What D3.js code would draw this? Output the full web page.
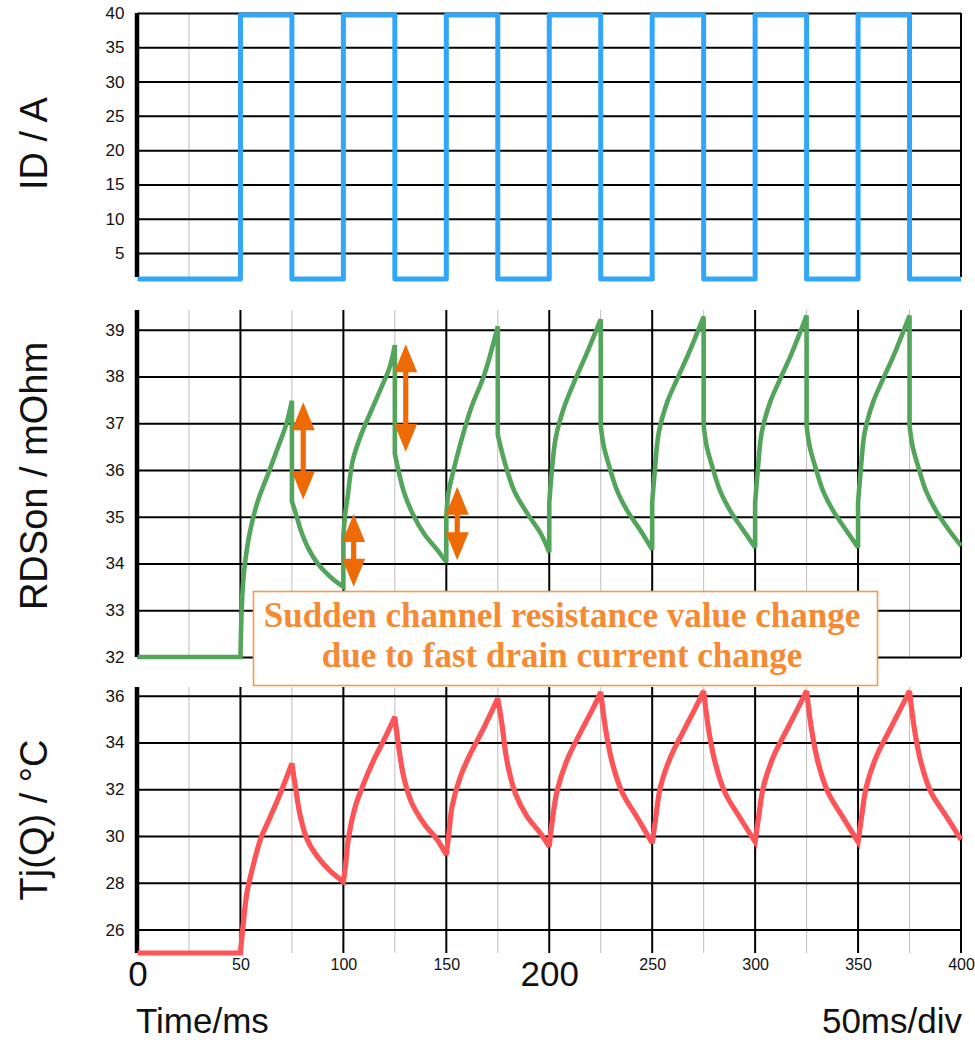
<!DOCTYPE html>
<html>
<head>
<meta charset="utf-8">
<script src="https://cdn.jsdelivr.net/npm/d3@7"></script>
<style>
  html, body { margin: 0; background: #fff; }
  svg { display: block; }
  text { font-family: "Liberation Sans", Arial, Helvetica, sans-serif; fill: #111; }
</style>
</head>
<body>
<svg id="chart" width="975" height="1040"></svg>
<script>
// ---- time axis ----
const timeMajor = [0, 50, 100, 150, 200, 250, 300, 350, 400];
const timeMinor = [25, 75, 125, 175, 225, 275, 325, 375];
const timeLabelsBig = [0, 200];

// ---- value ticks per panel ----
const idTicks = [5, 10, 15, 20, 25, 30, 35, 40];
const rdsTicks = [32, 33, 34, 35, 36, 37, 38, 39];
const tjTicks = [26, 28, 30, 32, 34, 36];

// ---- drain current: square wave, 50 ms period ----
const idTimes  = [0, 50, 75, 100, 125, 150, 175, 200, 225, 250, 275, 300, 325, 350, 375, 400];
const idValues = [1.2, 39.7, 1.2, 39.7, 1.2, 39.7, 1.2, 39.7, 1.2, 39.7, 1.2, 39.7, 1.2, 39.7, 1.2, 1.2];

// ---- channel resistance [ms, mOhm] ----
const rdsSamples = [
  [0, 32], [50, 32],
  [50.6, 33.0], [51.3, 33.6], [52.2, 34.0], [54.4, 34.63], [58.4, 35.33], [63.3, 35.9], [68.1, 36.47], [72.2, 36.97], [75, 37.48],
  [75, 35.33], [77, 35.05], [79.4, 34.7], [82.7, 34.35], [87.5, 34.0], [94, 33.7], [100, 33.5],
  [100, 34.6], [101, 35.1], [102, 35.4], [104.5, 36.19], [108.6, 36.75], [113.4, 37.25], [118.3, 37.75], [122.3, 38.17], [125, 38.67],
  [125, 36.35], [127.2, 35.9], [129.6, 35.5], [133.7, 35.06], [139.3, 34.63], [145.8, 34.28], [150, 34.03],
  [150, 35.0], [151, 35.5], [153, 35.9], [157.1, 36.6], [162, 37.32], [168.4, 38.03], [175, 39.07],
  [175, 36.75], [178.2, 36.19], [183, 35.55], [189.5, 35.06], [196, 34.63], [200, 34.24],
  [200, 35.3], [201.3, 36.0], [203.2, 36.7], [207.3, 37.35], [212.1, 37.88], [217.8, 38.45], [225, 39.22],
  [225, 36.95], [226.5, 36.5], [229, 36.1], [233.1, 35.54], [238, 35.12], [244.4, 34.7], [250, 34.3],
  [250, 35.3], [251.3, 36.0], [253.2, 36.8], [257.3, 37.45], [262.1, 37.94], [267.8, 38.5], [275, 39.28],
  [275, 36.95], [276.5, 36.5], [279, 36.1], [283.1, 35.54], [288, 35.12], [294.4, 34.7], [300, 34.34],
  [300, 35.3], [301.3, 36.0], [303.2, 36.8], [307.3, 37.45], [312.1, 37.94], [317.8, 38.5], [325, 39.3],
  [325, 36.95], [326.5, 36.5], [329, 36.1], [333.1, 35.54], [338, 35.12], [344.4, 34.7], [350, 34.34],
  [350, 35.3], [351.3, 36.0], [353.2, 36.8], [357.3, 37.45], [362.1, 37.94], [367.8, 38.5], [375, 39.3],
  [375, 36.95], [376.5, 36.5], [379, 36.1], [383.1, 35.54], [388, 35.12], [394.4, 34.7], [400, 34.38]
];

// ---- junction temperature [ms, degC] ----
const tjSamples = [
  [0, 25], [50, 25],
  [51.6, 26.45], [53.2, 27.6], [55.7, 28.57], [59.7, 29.85], [64.6, 30.84], [69.4, 31.83], [75, 33.1],
  [76.7, 32.1], [79.1, 30.84], [82.4, 29.85], [87.2, 29.14], [93.7, 28.5], [100, 28.05],
  [101, 28.7], [102.6, 29.99], [105.8, 31.26], [109.9, 32.25], [114.7, 33.24], [120.4, 34.23], [125, 35.1],
  [126.9, 33.8], [129.3, 32.53], [133.3, 31.4], [139, 30.55], [145.5, 29.85], [150, 29.2],
  [151.1, 29.99], [152.8, 31.26], [156.8, 32.53], [161.7, 33.52], [168.1, 34.6], [175, 35.88],
  [177, 34.8], [179.4, 33.24], [183.5, 31.83], [189.2, 30.84], [195.6, 30.13], [200, 29.55],
  [201.4, 30.6], [204, 32.0], [208.9, 33.3], [215.3, 34.45], [221.8, 35.55], [225, 36.15],
  [227.5, 34.5], [230.7, 33.1], [235.5, 31.85], [242.8, 30.78], [250, 29.7],
  [251.6, 30.7], [254, 32.1], [258.9, 33.37], [265.3, 34.5], [271.8, 35.62], [275, 36.2],
  [277.5, 34.5], [280.7, 33.1], [285.5, 31.83], [292.8, 30.76], [300, 29.75],
  [301.6, 30.75], [304, 32.1], [308.9, 33.4], [315.3, 34.52], [321.8, 35.64], [325, 36.2],
  [327.5, 34.5], [330.7, 33.1], [335.5, 31.85], [342.8, 30.78], [350, 29.75],
  [351.6, 30.75], [354, 32.1], [358.9, 33.4], [365.3, 34.52], [371.8, 35.64], [375, 36.2],
  [377.5, 34.5], [380.7, 33.1], [385.5, 31.85], [392.8, 30.85], [400, 29.85]
];

// ---- double arrows marking the resistance steps [ms, from, to] ----
const stepArrows = [
  [80.5, 37.45, 35.37],
  [105, 35.06, 33.5],
  [130.3, 38.69, 36.39],
  [155.3, 35.64, 34.07]
];

const noteLines = ["Sudden channel resistance value change", "due to fast drain current change"];

// ---------------------------------------------------------------
const svg = d3.select("#chart");
const x = d3.scaleLinear().domain([0, 400]).range([137.5, 961]);
const plotW = x(400) - x(0);

const panels = [
  { key: "id",  label: "ID / A",        domain: [1.5, 40],    range: [277, 13],  ticks: idTicks,  labelY: 143.5 },
  { key: "rds", label: "RDSon / mOhm",  domain: [32, 39.42],  range: [657, 310], ticks: rdsTicks, labelY: 476 },
  { key: "tj",  label: "Tj(Q) / °C",    domain: [25, 36.37],  range: [953, 687], ticks: tjTicks,  labelY: 820 }
];
panels.forEach(p => { p.y = d3.scaleLinear().domain(p.domain).range(p.range); });

panels.forEach(p => {
  const g = svg.append("g").attr("class", "panel-" + p.key);
  const [yb, yt] = p.range;

  // minor time grid (grey)
  g.append("g").selectAll("line").data(timeMinor).join("line")
    .attr("x1", d => x(d)).attr("x2", d => x(d))
    .attr("y1", yt).attr("y2", yb)
    .attr("stroke", "#bdbdbd").attr("stroke-width", 1);

  // horizontal grid + value labels
  const ax = g.append("g")
    .attr("transform", `translate(${x(0)},0)`)
    .call(d3.axisLeft(p.y).tickValues(p.ticks).tickSizeInner(-plotW).tickSizeOuter(0).tickPadding(13));
  ax.select(".domain").remove();
  ax.selectAll(".tick line").attr("stroke", "#000").attr("stroke-width", 2);
  ax.selectAll(".tick text")
    .style("font-family", "'Liberation Sans', Arial, sans-serif")
    .style("font-size", "17px").attr("fill", "#111");

  // major time grid (black)
  g.append("g").selectAll("line").data(timeMajor.filter(d => d > 0)).join("line")
    .attr("x1", d => x(d)).attr("x2", d => x(d))
    .attr("y1", yt).attr("y2", yb)
    .attr("stroke", "#000").attr("stroke-width", 2);

  // heavy left axis
  g.append("line")
    .attr("x1", x(0) - 0.5).attr("x2", x(0) - 0.5)
    .attr("y1", yt).attr("y2", yb)
    .attr("stroke", "#000").attr("stroke-width", 4.5);

  // vertical panel title
  g.append("text")
    .attr("transform", `translate(47,${p.labelY}) rotate(-90)`)
    .attr("text-anchor", "middle")
    .style("font-size", "38px")
    .text(p.label);
});

const byKey = Object.fromEntries(panels.map(p => [p.key, p]));

// ---- drain current trace ----
const idLine = d3.line()
  .x(d => x(d[0])).y(d => byKey.id.y(d[1]))
  .curve(d3.curveStepAfter);
svg.append("path")
  .datum(d3.zip(idTimes, idValues))
  .attr("d", idLine)
  .attr("fill", "none").attr("stroke", "#32a7f8")
  .attr("stroke-width", 5).attr("stroke-linejoin", "round");

// Smooth each rise / fall separately so the switching cusps stay sharp.
function splitAtEdges(samples) {
  const segs = [];
  let cur = [];
  samples.forEach(pt => {
    cur.push(pt);
    if (pt[0] % 25 === 0 && cur.length > 1) {
      segs.push(cur);
      cur = [pt];
    }
  });
  if (cur.length > 1) segs.push(cur);
  return segs;
}
function tracePath(samples, yScale) {
  const line = d3.line().x(d => x(d[0])).y(d => yScale(d[1])).curve(d3.curveCatmullRom.alpha(0.5));
  return splitAtEdges(samples)
    .map((s, i) => { const d = line(s); return i ? d.replace(/^M/, "L") : d; })
    .join("");
}

svg.append("path")
  .attr("d", tracePath(rdsSamples, byKey.rds.y))
  .attr("fill", "none").attr("stroke", "#52a55a")
  .attr("stroke-width", 4.6).attr("stroke-linejoin", "miter").attr("stroke-miterlimit", 3);

svg.append("path")
  .attr("d", tracePath(tjSamples, byKey.tj.y))
  .attr("fill", "none").attr("stroke", "#fd5457")
  .attr("stroke-width", 5.2).attr("stroke-linejoin", "miter").attr("stroke-miterlimit", 3);

// ---- step arrows ----
function doubleArrow(xc, y1, y2) {
  const hl = 28, hw = 11.5, sw = 2.6;
  return `M${xc},${y1} L${xc + hw},${y1 + hl} L${xc + sw},${y1 + hl} L${xc + sw},${y2 - hl} L${xc + hw},${y2 - hl}` +
         ` L${xc},${y2} L${xc - hw},${y2 - hl} L${xc - sw},${y2 - hl} L${xc - sw},${y1 + hl} L${xc - hw},${y1 + hl} Z`;
}
svg.append("g").selectAll("path").data(stepArrows).join("path")
  .attr("d", d => doubleArrow(x(d[0]), byKey.rds.y(d[1]), byKey.rds.y(d[2])))
  .attr("fill", "#ee6a05");

// ---- annotation box ----
const note = svg.append("g");
note.append("rect")
  .attr("x", 253.5).attr("y", 591.5).attr("width", 624).attr("height", 94)
  .attr("fill", "#fff").attr("stroke", "#f7994f").attr("stroke-width", 1.6);
note.selectAll("text").data(noteLines).join("text")
  .attr("x", 562).attr("y", (d, i) => 627 + i * 40)
  .attr("text-anchor", "middle")
  .style("font-family", "'Liberation Serif', 'Times New Roman', serif")
  .style("font-weight", "bold").style("font-size", "35px")
  .style("fill", "#f68a32")
  .text(d => d);

// ---- time axis labels ----
const xa = svg.append("g")
  .attr("transform", `translate(0,${byKey.tj.range[0]})`)
  .call(d3.axisBottom(x).tickValues(timeMajor).tickSize(0).tickFormat(d3.format("d")));
xa.select(".domain").remove();
xa.selectAll(".tick text")
  .attr("dy", null)
  .attr("y", d => timeLabelsBig.includes(d) ? 33 : 17)
  .style("font-family", "'Liberation Sans', Arial, sans-serif")
  .style("font-size", d => timeLabelsBig.includes(d) ? "35px" : "16px")
  .attr("fill", "#111");

svg.append("text")
  .attr("x", 136).attr("y", 1033)
  .style("font-size", "35px")
  .text("Time/ms");
svg.append("text")
  .attr("x", 962).attr("y", 1033)
  .attr("text-anchor", "end")
  .style("font-size", "35px")
  .text("50ms/div");
</script>
</body>
</html>
